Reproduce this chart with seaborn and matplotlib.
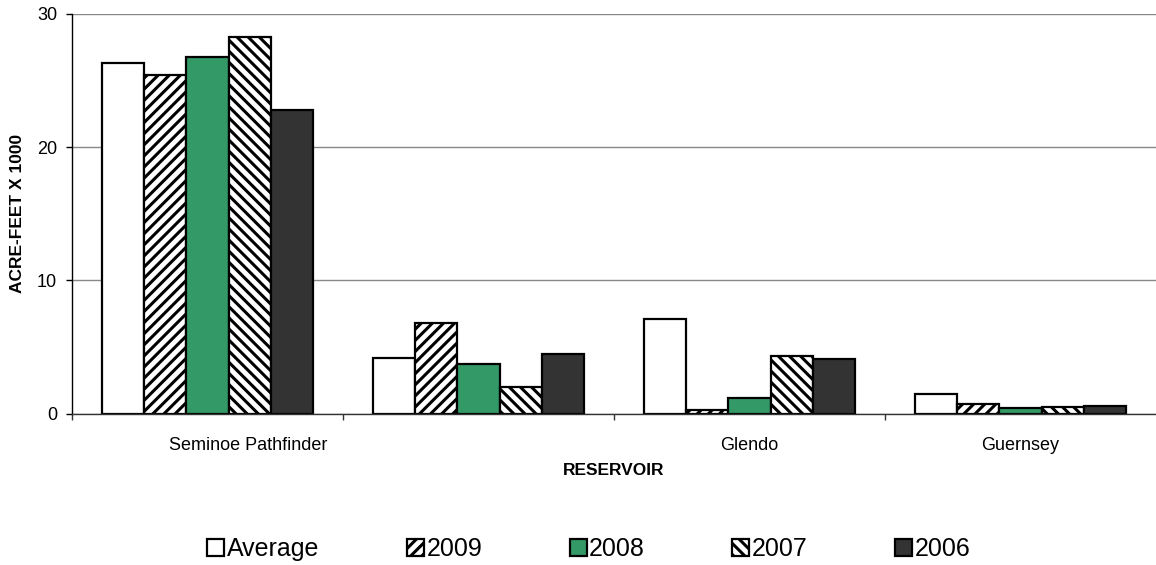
import matplotlib
matplotlib.use('Agg')
import matplotlib.pyplot as plt
import matplotlib.transforms as mtransforms
from matplotlib.ticker import FixedLocator
import numpy as np
import pandas as pd
import seaborn as sns

# valores (acre-feet x 1000)
reservoirs = ['Seminoe', 'Pathfinder', 'Glendo', 'Guernsey']
tick_labels = ['Seminoe Pathfinder', '', 'Glendo', 'Guernsey']
series = ['Average', '2009', '2008', '2007', '2006']

average = [26.3, 4.2, 7.1, 1.5]
y2009 = [25.4, 6.8, 0.3, 0.7]
y2008 = [26.8, 3.7, 1.2, 0.45]
y2007 = [28.3, 2.0, 4.3, 0.5]
y2006 = [22.8, 4.5, 4.1, 0.6]

colors = {'Average': 'white', '2009': 'white', '2008': '#339966',
          '2007': 'white', '2006': '#333333'}
hatches = {'Average': '', '2009': '///', '2008': '', '2007': '\\\\\\', '2006': ''}

df = pd.DataFrame({
    'reservoir': reservoirs * 5,
    'serie': np.repeat(series, len(reservoirs)),
    'valor': average + y2009 + y2008 + y2007 + y2006,
})

sns.set_style('white')
plt.rcParams['font.family'] = ['Liberation Sans', 'DejaVu Sans']
plt.rcParams['hatch.linewidth'] = 2.2
plt.rcParams['text.color'] = 'black'
plt.rcParams['axes.labelcolor'] = 'black'
plt.rcParams['xtick.color'] = 'black'
plt.rcParams['ytick.color'] = 'black'

fig, ax = plt.subplots(figsize=(11.56, 5.65), dpi=100)
fig.subplots_adjust(left=72 / 1156, right=1.0, bottom=1 - 413.5 / 565, top=1 - 14 / 565)

sns.barplot(data=df, x='reservoir', y='valor', hue='serie', order=reservoirs,
            hue_order=series, palette=colors, saturation=1, width=0.775,
            errorbar=None, edgecolor='black', linewidth=1.6, legend=False, ax=ax)

for serie, cont in zip(series, ax.containers):
    for p in cont.patches:
        p.set_hatch(hatches[serie])

ax.set_xlim(-0.5, 3.5)
ax.set_ylim(0, 30)
ax.set_yticks([0, 10, 20, 30])
ax.yaxis.grid(True, color='#888888', linewidth=1)
ax.set_axisbelow(True)
for s in ['top', 'right']:
    ax.spines[s].set_visible(False)
ax.spines['left'].set_color('black')
ax.spines['bottom'].set_color('#333333')
ax.spines['left'].set_linewidth(1)
ax.spines['bottom'].set_linewidth(1)

ax.tick_params(axis='y', direction='out', length=4.3, width=1, pad=6.5,
               labelsize=13, left=True, color='black')
ax.set_xticks(range(len(reservoirs)))
ax.set_xticklabels(tick_labels)
ax.tick_params(axis='x', which='major', length=0, pad=17, labelsize=13)
ax.xaxis.set_minor_locator(FixedLocator([-0.5, 0.5, 1.5, 2.5]))
ax.tick_params(axis='x', which='minor', direction='out', length=4.3, width=1,
               bottom=True, color='#333333')

ax.set_xlabel('RESERVOIR', fontsize=12.5, fontweight='bold')
ax.xaxis.set_label_coords(0.5, -0.124)
ax.set_ylabel('ACRE-FEET X 1000', fontsize=12.5, fontweight='bold')
ax.yaxis.set_label_coords(-0.0434, 0.5)

# rótulo do primeiro grupo deslocado para a direita, como no original
lbl = ax.get_xticklabels()[0]
lbl.set_transform(lbl.get_transform() + mtransforms.ScaledTranslation(0.41, 0, fig.dpi_scale_trans))

handles = [cont.patches[0] for cont in ax.containers]
fig.legend(handles, series, loc='center', bbox_to_anchor=(0.5095, 0.028), ncol=5,
           frameon=False, fontsize=18, handlelength=0.68, handleheight=0.68,
           handletextpad=0.1, columnspacing=3.5, borderpad=0)

fig.savefig('out.png', dpi=100)
plt.close(fig)
